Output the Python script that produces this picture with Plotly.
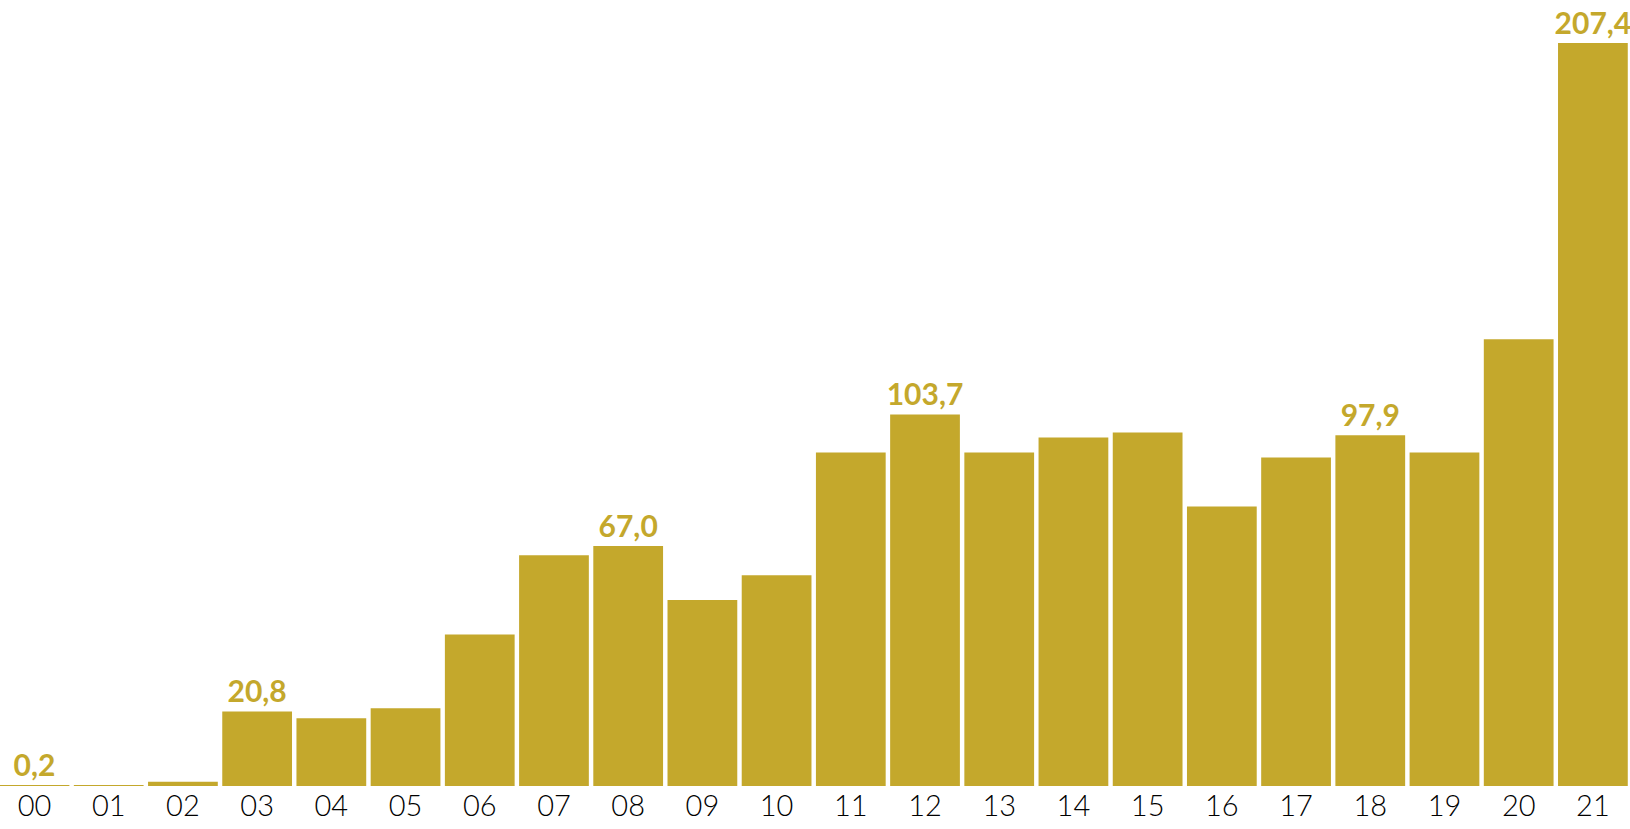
import plotly.graph_objects as go

years = ["00", "01", "02", "03", "04", "05", "06", "07", "08", "09", "10",
         "11", "12", "13", "14", "15", "16", "17", "18", "19", "20", "21"]
values = [0.2, 0.2, 1.2, 20.8, 18.9, 21.7, 42.3, 64.4, 67.0, 51.9, 58.8,
          93.1, 103.7, 93.1, 97.3, 98.7, 78.0, 91.7, 97.9, 93.1, 124.7, 207.4]
labels = ["0,2", "", "", "20,8", "", "", "", "", "67,0", "", "",
          "", "103,7", "", "", "", "", "", "97,9", "", "", "207,4"]

GOLD = "#C4A82C"

fig = go.Figure(go.Bar(
    x=years, y=values, text=labels,
    texttemplate="%{text}",
    textposition="outside",
    constraintext="none",
    cliponaxis=False,
    marker=dict(color=GOLD, line=dict(width=0)),
    textfont=dict(family="Lato", size=30, color=GOLD, weight=700),
    hoverinfo="x+y",
))

fig.update_layout(
    width=1630, height=829,
    margin=dict(l=0, r=0, t=0, b=43, autoexpand=False),
    plot_bgcolor="white", paper_bgcolor="white",
    bargap=0.06,
    showlegend=False,
    font=dict(family="Lato", color="black"),
    xaxis=dict(
        type="category", range=[-0.465, 21.5], automargin=False,
        showgrid=False, zeroline=False, showline=False,
        ticks="", ticklen=0,
        tickfont=dict(family="Lato", size=29, color="black", weight=300),
    ),
    yaxis=dict(
        range=[0, 219.4], visible=False, showgrid=False, zeroline=False,
        automargin=False,
    ),
)

fig.write_html(
    "out.html",
    config={"displayModeBar": False},
    post_script="document.body.style.margin='0';document.body.style.overflow='hidden';",
)
